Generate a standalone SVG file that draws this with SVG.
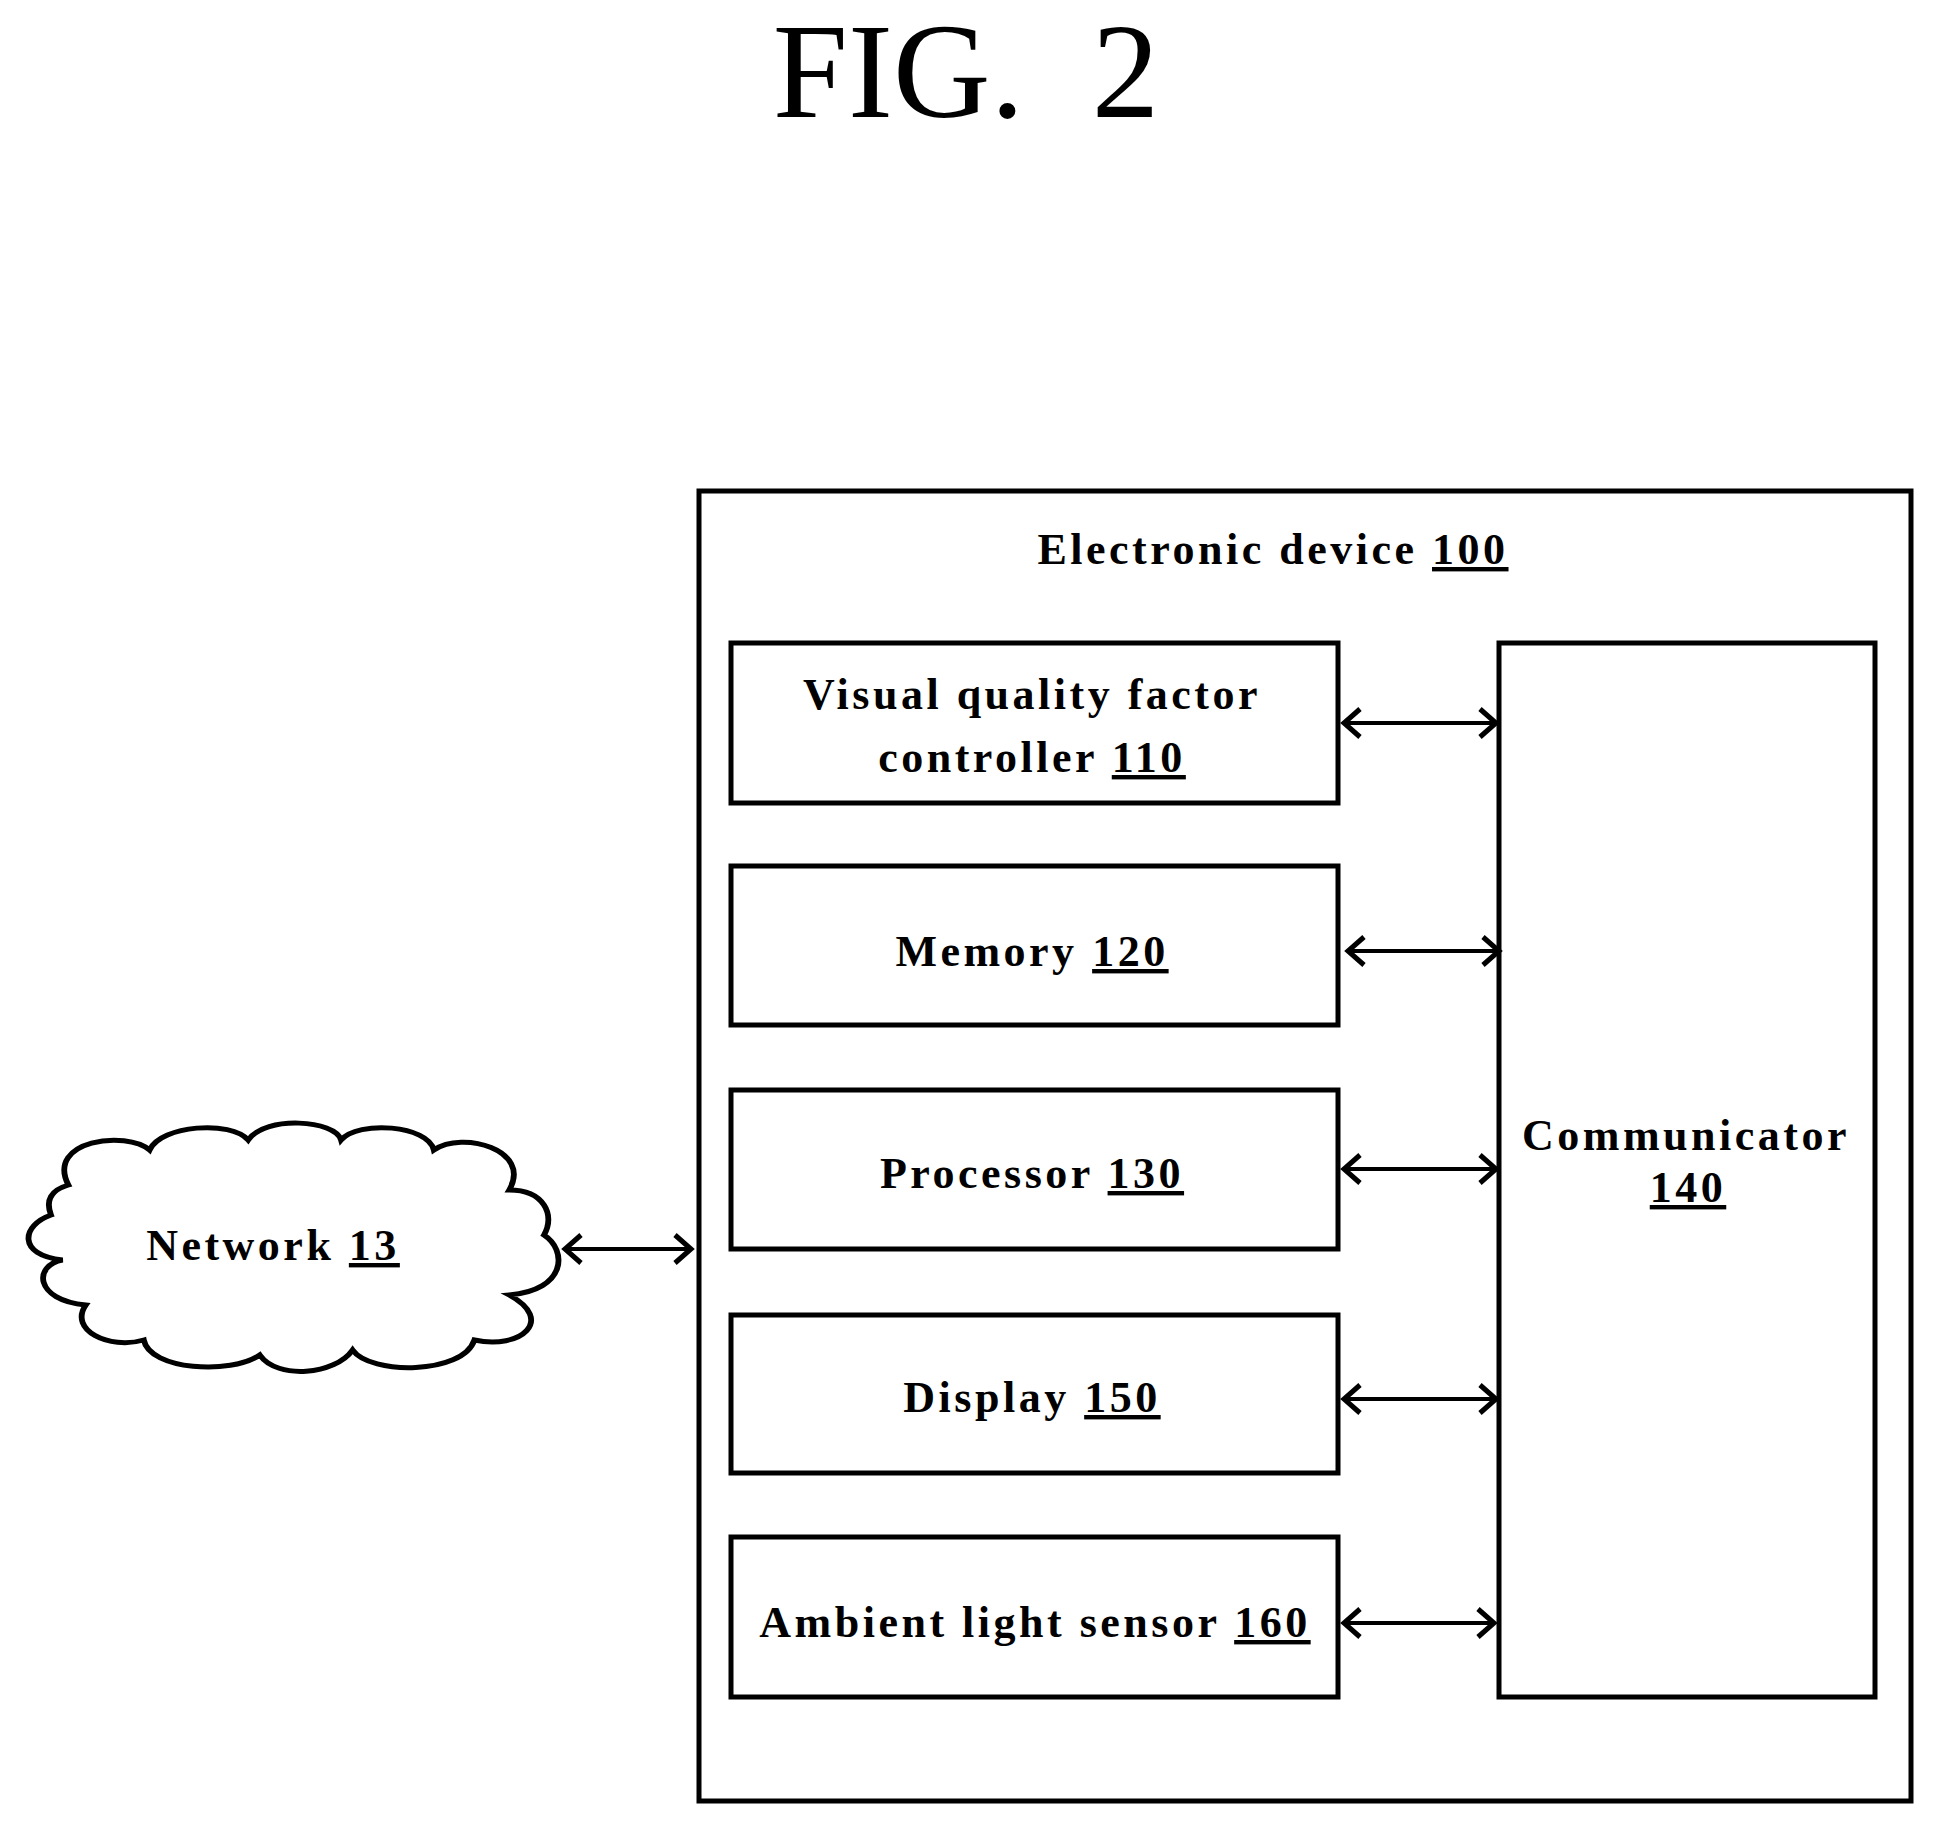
<svg xmlns="http://www.w3.org/2000/svg" width="1934" height="1823" viewBox="0 0 1934 1823">
<style>
.b{fill:none;stroke:#000;stroke-width:5}
.t{font-family:"Liberation Serif",serif;font-weight:bold;font-size:44px;text-anchor:middle;fill:#000;letter-spacing:3.5px}
.c{stroke:#000;stroke-width:4;fill:none;marker-start:url(#a);marker-end:url(#a)}
</style>
<defs><marker id="a" viewBox="0 0 20 20" refX="18" refY="10" markerWidth="20" markerHeight="20" orient="auto-start-reverse" markerUnits="userSpaceOnUse" style="overflow:visible"><path d="M2,-4 L18,10 L2,24" fill="none" stroke="#000" stroke-width="5"/></marker></defs>
<rect width="1934" height="1823" fill="#fff"/>
<text x="966" y="117" font-family="Liberation Serif,serif" font-size="135" text-anchor="middle" xml:space="preserve">FIG.  2</text>
<g id="device"><rect class="b" x="699" y="491" width="1212" height="1310"/>
<text class="t" x="1273" y="564">Electronic device <tspan text-decoration="underline">100</tspan></text></g>
<g id="n110"><rect class="b" x="731" y="643" width="607" height="160"/>
<text class="t" x="1032" y="709">Visual quality factor</text><text class="t" x="1032" y="772">controller <tspan text-decoration="underline">110</tspan></text></g>
<g id="n120"><rect class="b" x="731" y="866" width="607" height="159"/><text class="t" x="1032" y="966">Memory <tspan text-decoration="underline">120</tspan></text></g>
<g id="n130"><rect class="b" x="731" y="1090" width="607" height="159"/><text class="t" x="1032" y="1188">Processor <tspan text-decoration="underline">130</tspan></text></g>
<g id="n150"><rect class="b" x="731" y="1315" width="607" height="158"/><text class="t" x="1032" y="1412">Display <tspan text-decoration="underline">150</tspan></text></g>
<g id="n160"><rect class="b" x="731" y="1537" width="607" height="160"/><text class="t" x="1035" y="1637">Ambient light sensor <tspan text-decoration="underline">160</tspan></text></g>
<g id="n140"><rect class="b" x="1499" y="643" width="376" height="1054"/>
<text class="t" x="1686" y="1150">Communicator</text><text class="t" x="1688" y="1202" text-decoration="underline">140</text></g>
<g id="network">
<path class="b" transform="translate(22,0) scale(1.16,1) translate(-20,0)" d="M60,1185 C40,1140 110,1130 130,1150 C140,1125 200,1120 215,1140 C230,1115 290,1120 295,1140 C310,1120 370,1125 375,1150 C400,1130 460,1150 440,1190 C470,1190 480,1215 470,1235 C490,1250 490,1290 440,1295 C480,1320 450,1350 410,1340 C400,1375 320,1375 305,1350 C290,1375 240,1380 225,1355 C200,1375 130,1370 125,1340 C95,1350 60,1330 75,1305 C30,1300 30,1265 55,1260 C15,1255 20,1225 45,1215 C40,1200 45,1190 60,1185 Z"/>
<text class="t" x="273" y="1260" font-size="42">Network <tspan text-decoration="underline">13</tspan></text></g>
<g id="connectors">
<line class="c" x1="1344" y1="723" x2="1496" y2="723"/>
<line class="c" x1="1348" y1="951" x2="1499" y2="951"/>
<line class="c" x1="1344" y1="1169" x2="1496" y2="1169"/>
<line class="c" x1="1344" y1="1399" x2="1496" y2="1399"/>
<line class="c" x1="1344" y1="1623" x2="1494" y2="1623"/>
<line class="c" x1="565" y1="1249" x2="691" y2="1249"/>
</g>
</svg>
